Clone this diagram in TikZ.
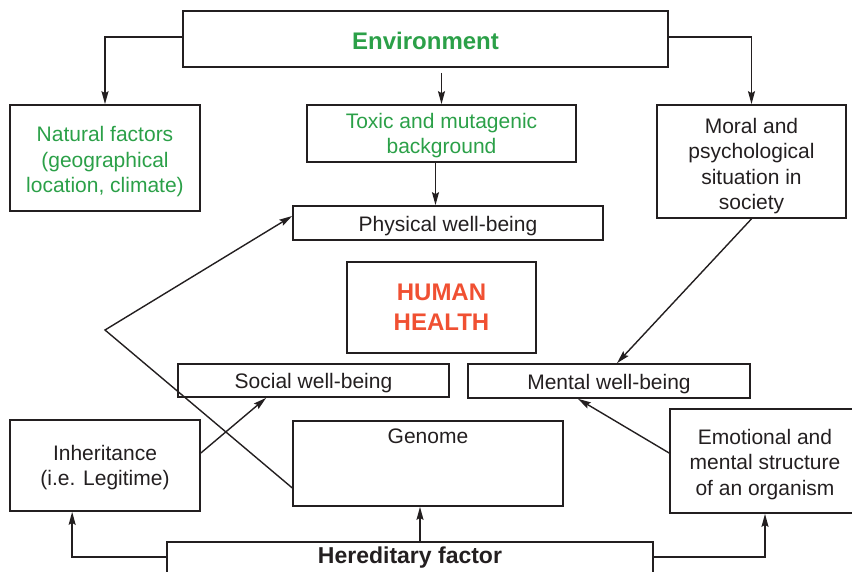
\documentclass[tikz,border=0pt]{standalone}
\usepackage{fontspec}
\setmainfont{Liberation Sans}
\usetikzlibrary{arrows.meta,calc}
\definecolor{envgreen}{RGB}{43,160,72}
\definecolor{hred}{RGB}{240,80,50}
\definecolor{ink}{RGB}{35,31,32}
\begin{document}
\begin{tikzpicture}[x=1pt,y=-1pt,
 box/.style={draw=ink, line width=1.7pt, inner sep=0pt},
 txt/.style={inner sep=0pt, align=center, font=\fontsize{21}{25.5}\selectfont, text=ink},
 gtxt/.style={txt, text=envgreen},
 conn/.style={draw=ink, line width=1.4pt, -{Stealth[length=13pt,width=7pt,inset=2pt]}}]
\clip (0,0) rectangle (852,571);
\useasboundingbox (0,0) rectangle (852,571);

\node[box, minimum width=485pt, minimum height=56pt,
  label={[txt, yshift=-1.5pt, font=\fontsize{24}{28}\selectfont\bfseries, text=envgreen]center:Environment}] (env) at (425.5,39) {};
\node[box, minimum width=190pt, minimum height=106pt,
  label={[gtxt, yshift=-4pt]center:{Natural factors\\(geographical\\location, climate)}}] (nat) at (105,158) {};
\node[box, minimum width=269pt, minimum height=57pt,
  label={[gtxt, yshift=-2pt]center:{Toxic and mutagenic\\background}}] (tox) at (441.5,133.5) {};
\node[box, minimum width=310pt, minimum height=34pt,
  label={[txt, yshift=-3.5pt]center:Physical well-being}] (phys) at (448,223) {};
\node[box, minimum width=189pt, minimum height=113pt,
  label={[txt, yshift=-4.5pt]center:{Moral and\\psychological\\situation in\\society}}] (moral) at (751.5,161.5) {};
\node[box, minimum width=189pt, minimum height=91pt,
  label={[txt, font=\fontsize{24}{30}\selectfont\bfseries, text=hred]center:{HUMAN\\HEALTH}}] (hh) at (441.5,307.5) {};
\node[box, minimum width=271pt, minimum height=33pt,
  label={[txt, yshift=-3pt]center:Social well-being}] (social) at (313.5,380.5) {};
\node[box, minimum width=282pt, minimum height=34pt,
  label={[txt, yshift=-3pt]center:Mental well-being}] (mental) at (609,381) {};
\node[box, minimum width=270pt, minimum height=85pt,
  label={[txt, anchor=base, yshift=-23pt]north:Genome}] (genome) at (428,463.5) {};
\node[box, minimum width=190pt, minimum height=91pt,
  label={[txt, yshift=-2pt]center:{Inheritance\\(i.e. Legitime)}}] (inh) at (105,465.5) {};
\node[box, minimum width=190pt, minimum height=104pt,
  label={[txt, yshift=-3.5pt]center:{Emotional and\\mental structure\\of an organism}}] (emo) at (765,461) {};
\node[box, minimum width=486pt, minimum height=60pt,
  label={[txt, anchor=base, yshift=-22pt, font=\fontsize{23}{27}\selectfont\bfseries]north:Hereditary factor}] (hered) at (410,572) {};

\draw[conn] ($(env.west)+(0,-2)$) -| (nat.north);
\draw[conn] ($(env.east)+(0,-2)$) -| (moral.north);
\draw[conn] ($(tox.north |- env.south)+(0,5)$) -- (tox.north);
\draw[conn] ([xshift=-6pt]tox.south) -- ([xshift=-6pt]tox.south |- phys.north);
\coordinate (bend) at (105,330);
\draw[conn] ($(genome.south west)+(0,-19)$) -- (bend) -- ($(phys.west)+(0,-7)$);
\draw[conn] ($(inh.east)+(0,-12.5)$) -- ($(social.south west)+(89,0)$);
\draw[conn] (moral.south) -- ($(mental.north)+(8,0)$);
\draw[conn] ($(emo.west)+(0,-8)$) -- ($(mental.south)+(-31,0)$);
\draw[conn] ($(hered.north west)+(0,16)$) -| ($(inh.south west)+(63,0)$);
\draw[conn] ($(hered.north east)+(0,16)$) -| (emo.south);
\draw[conn] ($(hered.north)+(10,0)$) -- ($(genome.south)+(-8,0)$);
\end{tikzpicture}
\end{document}
